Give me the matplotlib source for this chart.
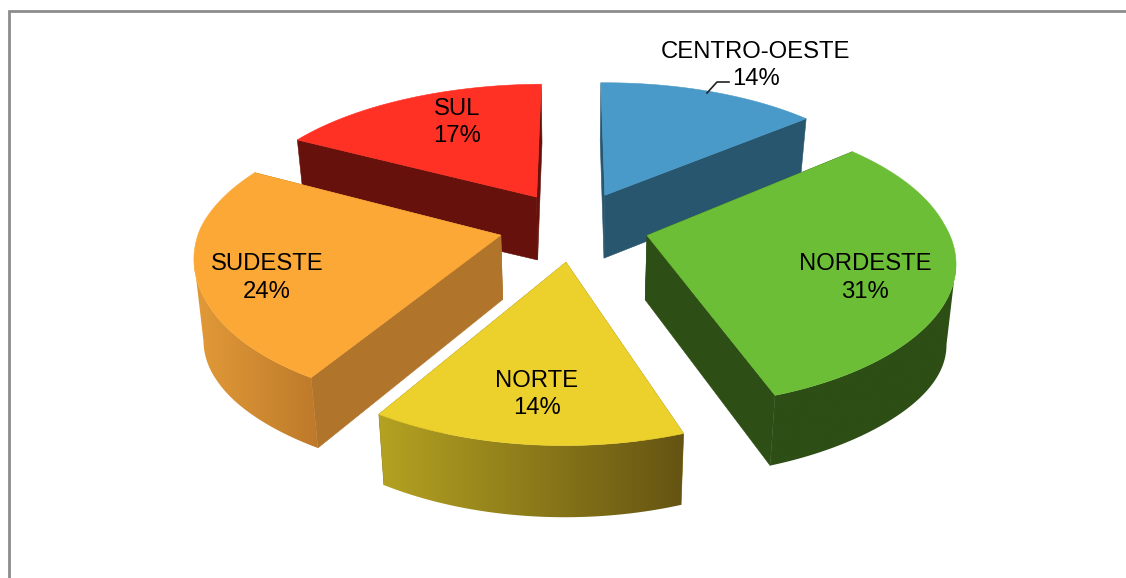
import numpy as np
import matplotlib
matplotlib.use("Agg")
import matplotlib.pyplot as plt
from matplotlib.colors import to_rgb
from matplotlib.patches import Polygon

# dados do grafico
regioes = ["CENTRO-OESTE", "NORDESTE", "NORTE", "SUDESTE", "SUL"]
percentuais = [14, 31, 14, 24, 17]

cor_topo = ["#4A9AC9", "#6BBE36", "#ECD02B", "#FCA836", "#FF3024"]
cor_lado = ["#28566F", "#2D4E15", "#8A7418", "#B0742A", "#66110B"]
# lado curvo: cor na esquerda e na direita
cor_arco = [("#28566F", "#28566F"), ("#2D4E15", "#2D4E15"), ("#B4A222", "#655412"),
            ("#E29A38", "#BE7A2A"), ("#66110B", "#66110B")]

pos_texto = [(756, 65.5), (865, 278), (537, 394.5), (267, 278), (457, 122.5)]

# parametros da projecao
CX, CY = 574, 226
A, B = 299, 140
K = 0.163
KX = 0.15
EXPLODE = 0.25
ALTURA = 64
SKEW = 7
TILT = 1.5


def projeta(u, v, baixo=False):
    u = np.asarray(u, dtype=float)
    v = np.asarray(v, dtype=float)
    w = 1 + K * v
    x = A * u / (1 + KX * v)
    # ajuste fino: o lado esquerdo de tras abre um pouco mais
    x = x - 5 * np.clip(-u, 0, 1) * np.clip(v + 0.5, 0, 1)
    y = CY - B * v / w - TILT * u * (1 - 1.5 * np.minimum(v, 0))
    if baixo:
        x = x * 0.975
        y = y + ALTURA / np.sqrt(w) + 4.5 * np.abs(u) ** 6
    return CX + x - SKEW * np.minimum(v, 0), y


def face(ax, u0, v0, u1, v1, cor, z):
    x0, y0 = projeta(u0, v0)
    x1, y1 = projeta(u1, v1)
    x2, y2 = projeta(u1, v1, True)
    x3, y3 = projeta(u0, v0, True)
    ax.add_patch(Polygon([(x0, y0), (x1, y1), (x2, y2), (x3, y3)], closed=True,
                         facecolor=cor, edgecolor=cor, lw=0.4, zorder=z))


def corta(xs, ys):
    # fica so com o trecho do arco que vai ate o ponto mais afastado em x
    k = int(np.argmax(np.abs(xs - CX)))
    if k < len(xs) / 2:
        return xs[k:], ys[k:]
    return xs[:k + 1], ys[:k + 1]


fig = plt.figure(figsize=(11.26, 5.78), dpi=100)
ax = fig.add_axes([0, 0, 1, 1])
ax.axis("off")

# moldura: so aparecem o topo e a esquerda
ax.plot([9, 9, 1126], [578, 11, 11], color="#8C8C8C", lw=2, solid_joinstyle="miter", zorder=1)

total = sum(percentuais)
acum = np.cumsum([0] + percentuais) / total * 2 * np.pi
ordem = [0, 4, 3, 1, 2]  # de tras para frente

for n, i in enumerate(ordem):
    t0, t1 = acum[i], acum[i + 1]
    meio = (t0 + t1) / 2
    ox, oy = EXPLODE * np.sin(meio), EXPLODE * np.cos(meio)
    t = np.linspace(t0, t1, 120)
    u = ox + np.sin(t)
    v = oy + np.cos(t)
    z = 10 + n * 3

    faces = [(ox, oy, u[0], v[0]), (ox, oy, u[-1], v[-1])]
    faces.sort(key=lambda f: -(f[1] + f[3]))
    for f in faces:
        face(ax, f[0], f[1], f[2], f[3], cor_lado[i], z)

    # lado curvo com gradiente, recortado na faixa do arco
    frente = np.cos(t) < 0.25
    if frente.any():
        xa, ya = corta(*projeta(u[frente], v[frente]))
        xb, yb = corta(*projeta(u[frente], v[frente], True))
        faixa = Polygon(np.r_[np.c_[xa, ya], np.c_[xb, yb][::-1]], closed=True,
                        transform=ax.transData, facecolor="none", edgecolor="none")
        ax.add_patch(faixa)
        xs = np.r_[xa, xb]
        c0, c1 = np.array(to_rgb(cor_arco[i][0])), np.array(to_rgb(cor_arco[i][1]))
        grad = np.linspace(c0, c1, 256)[np.newaxis, :, :]
        im = ax.imshow(grad, extent=(xs.min(), xs.max(), yb.max() + 2, min(ya.min(), yb.min()) - 2),
                       aspect="auto", interpolation="bilinear", zorder=z + 1)
        im.set_clip_path(faixa)

    xt, yt = projeta(np.r_[ox, u], np.r_[oy, v])
    ax.add_patch(Polygon(np.c_[xt, yt], closed=True, facecolor=cor_topo[i],
                         edgecolor=cor_topo[i], lw=0.4, zorder=z + 2))

    ax.text(pos_texto[i][0], pos_texto[i][1], "%s\n%d%%" % (regioes[i], percentuais[i]),
            ha="center", va="center", fontsize=17.2, family="Liberation Sans",
            color="black", linespacing=1.33, zorder=40)

# linha de chamada do CENTRO-OESTE
ax.plot([707, 717, 729], [93, 82, 82], color="#222222", lw=1.2, zorder=41)

ax.set_xlim(0, 1126)
ax.set_ylim(578, 0)

fig.savefig("out.png", dpi=100)
